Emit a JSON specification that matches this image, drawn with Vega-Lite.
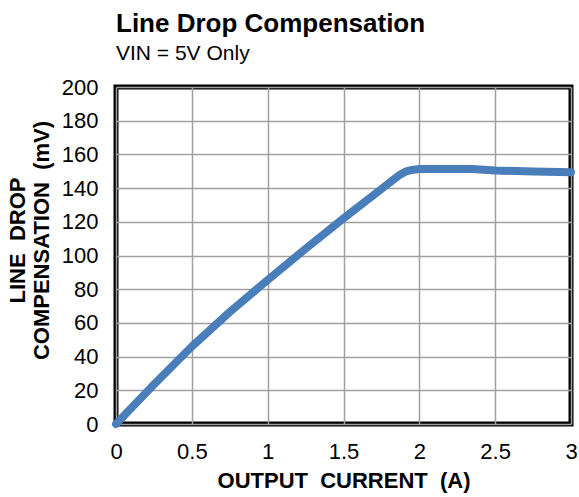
{
  "$schema": "https://vega.github.io/schema/vega-lite/v6.json",
  "width": 455,
  "height": 337,
  "autosize": {"type": "none"},
  "padding": {"left": 116, "top": 87, "right": 8, "bottom": 73},
  "background": "white",
  "title": {
    "text": "Line Drop Compensation",
    "subtitle": "VIN = 5V Only",
    "anchor": "start",
    "frame": "group",
    "offset": 12,
    "font": "Liberation Sans",
    "fontSize": 26,
    "fontWeight": "bold",
    "color": "black",
    "subtitleFont": "Liberation Sans",
    "subtitleFontSize": 21,
    "subtitleColor": "black",
    "subtitlePadding": 6
  },
  "config": {
    "view": {"stroke": "black", "strokeWidth": 5},
    "axis": {
      "labelFont": "Liberation Sans",
      "labelFontSize": 22,
      "labelColor": "black",
      "titleFont": "Liberation Sans",
      "titleFontSize": 22,
      "titleFontWeight": "bold",
      "titleColor": "black",
      "gridColor": "#a0a0a0",
      "gridWidth": 1.5,
      "gridOpacity": 1,
      "domain": false,
      "ticks": false
    }
  },
  "data": {
    "values": [
      {"current": 0.0, "comp": 0},
      {"current": 0.25, "comp": 23.5},
      {"current": 0.5, "comp": 46},
      {"current": 0.75, "comp": 66.5},
      {"current": 1.0, "comp": 85.5},
      {"current": 1.25, "comp": 104},
      {"current": 1.5, "comp": 122},
      {"current": 1.7, "comp": 136},
      {"current": 1.87, "comp": 147.8},
      {"current": 1.91, "comp": 149.8},
      {"current": 1.95, "comp": 150.8},
      {"current": 2.0, "comp": 151.3},
      {"current": 2.35, "comp": 151.3},
      {"current": 2.5, "comp": 150.4},
      {"current": 2.75, "comp": 149.9},
      {"current": 3.0, "comp": 149.4}
    ]
  },
  "mark": {"type": "line", "color": "#4a7ebb", "strokeWidth": 8, "strokeCap": "round", "strokeJoin": "round", "interpolate": "linear", "clip": false},
  "encoding": {
    "x": {
      "field": "current",
      "type": "quantitative",
      "scale": {"domain": [0, 3], "nice": false},
      "axis": {
        "values": [0, 0.5, 1, 1.5, 2, 2.5, 3],
        "labelExpr": "datum.value",
        "labelPadding": 17,
        "title": "OUTPUT\u00a0\u00a0CURRENT\u00a0\u00a0(A)",
        "titlePadding": 8,
        "labelFlush": false
      }
    },
    "y": {
      "field": "comp",
      "type": "quantitative",
      "scale": {"domain": [0, 200], "nice": false},
      "axis": {
        "values": [0, 20, 40, 60, 80, 100, 120, 140, 160, 180, 200],
        "labelPadding": 18,
        "title": ["LINE\u00a0\u00a0DROP", "COMPENSATION\u00a0\u00a0(mV)"],
        "titlePadding": 8,
        "titleLineHeight": 24,
        "titleY": 153
      }
    }
  }
}
